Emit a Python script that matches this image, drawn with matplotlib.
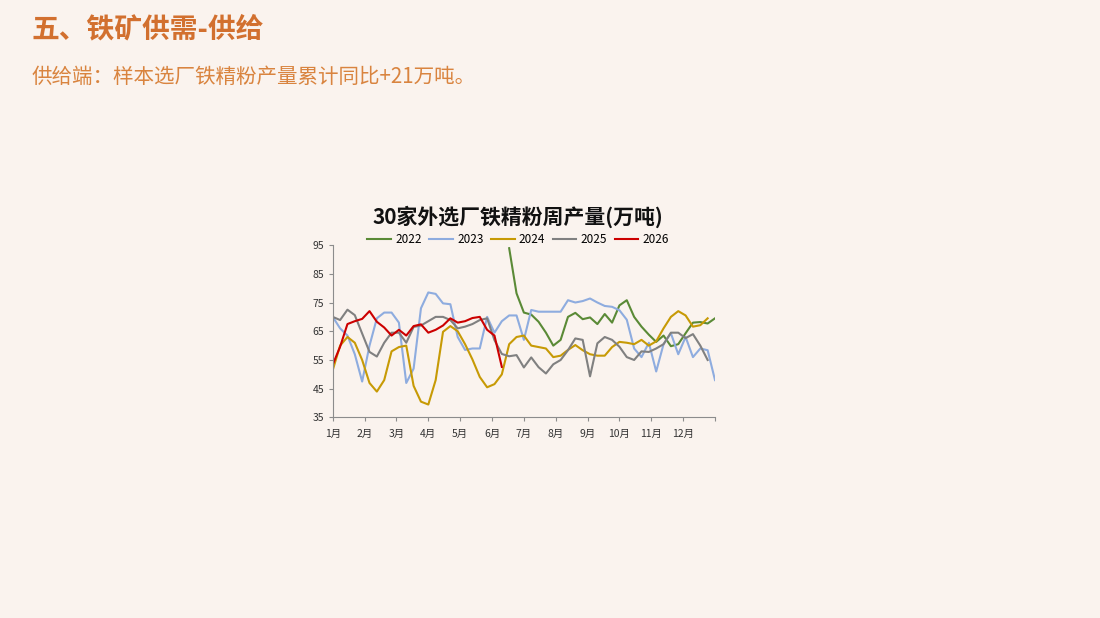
#!/usr/bin/env python3

import numpy as np
import matplotlib
matplotlib.use('Agg')
import matplotlib.pyplot as plt

plt.rcParams['font.family'] = ['Noto Sans CJK SC', 'DejaVu Sans']

BG = '#FAF3EE'

# weekly output, 10k tonnes; week 0 = first week of January
y2022_start = 24
y2022 = [93.9, 78.2, 71.5, 70.8, 68.3, 64.5, 60.0, 62.0, 70.0, 71.4,
         69.2, 69.8, 67.5, 71.0, 68.0, 74.0, 75.8, 70.0, 66.6, 63.8,
         61.3, 63.5, 59.8, 60.5, 64.3, 68.0, 68.2, 67.7, 69.5]
y2023 = [70.0, 66.0, 63.5, 57.0, 47.5, 60.0, 69.5, 71.5, 71.5, 68.0,
         47.0, 52.0, 73.0, 78.5, 78.0, 74.7, 74.4, 63.0, 58.5, 59.0,
         59.0, 70.0, 64.5, 68.5, 70.5, 70.5, 62.0, 72.4, 71.8, 71.8,
         71.8, 71.8, 75.8, 75.0, 75.5, 76.4, 75.0, 73.8, 73.5, 72.3,
         69.0, 59.0, 56.0, 61.0, 51.0, 60.5, 64.3, 57.0, 63.0, 56.0,
         59.0, 58.4, 48.0]
y2024 = [51.5, 60.0, 63.0, 61.0, 55.0, 47.0, 44.0, 48.0, 58.0, 59.5,
         60.0, 46.0, 40.5, 39.5, 48.0, 64.8, 66.8, 65.0, 60.5, 55.2,
         49.1, 45.5, 46.6, 50.0, 60.5, 63.0, 63.5, 60.0, 59.5, 59.0,
         56.0, 56.5, 58.5, 60.2, 58.4, 57.0, 56.5, 56.5, 59.5, 61.3,
         61.0, 60.5, 62.0, 60.0, 61.5, 66.0, 70.0, 72.0, 70.5, 66.6,
         67.1, 69.5]
y2025 = [70.0, 68.9, 72.5, 70.6, 64.2, 57.8, 56.2, 61.0, 64.5, 64.5,
         61.0, 66.5, 67.0, 68.5, 70.0, 70.0, 68.9, 66.0, 66.6, 67.5,
         68.9, 69.5, 61.9, 57.1, 56.3, 56.7, 52.4, 55.9, 52.5, 50.3,
         53.5, 55.0, 58.4, 62.5, 62.0, 49.3, 60.8, 63.0, 62.0, 59.6,
         56.0, 55.0, 58.0, 57.8, 59.0, 60.5, 64.5, 64.5, 62.6, 64.0,
         60.0, 55.0]
y2026 = [53.4, 59.6, 67.5, 68.5, 69.3, 72.0, 68.3, 66.3, 63.5, 65.5,
         63.5, 66.8, 67.4, 64.5, 65.5, 67.0, 69.5, 68.0, 68.5, 69.6,
         70.0, 65.5, 63.5, 52.6]

months = ['1月', '2月', '3月', '4月', '5月', '6月',
          '7月', '8月', '9月', '10月', '11月', '12月']


def week_x(n, start=0):
    # convert week index to month units on the axis
    return (np.arange(n) + start) * 12 / 52


fig = plt.figure(figsize=(11, 6.18), dpi=100, facecolor=BG)

fig.text(0.029, 0.953, '五、铁矿供需-供给', fontsize=20, fontweight='bold',
         color='#D2702F', va='center', ha='left')
fig.text(0.029, 0.875, '供给端：样本选厂铁精粉产量累计同比+21万吨。', fontsize=14.8,
         color='#D9843F', va='center', ha='left')

ax = fig.add_axes([0.3025, 0.3245, 0.3475, 0.279])
ax.set_facecolor(BG)

lw = 1.5
ax.plot(week_x(len(y2022), y2022_start), y2022, color='#5A8A36', lw=lw, label='2022')
ax.plot(week_x(len(y2023)), y2023, color='#8EACDF', lw=lw, label='2023')
ax.plot(week_x(len(y2024)), y2024, color='#C79A05', lw=lw, label='2024')
ax.plot(week_x(len(y2025)), y2025, color='#808080', lw=lw, label='2025')
ax.plot(week_x(len(y2026)), y2026, color='#CC0000', lw=lw, label='2026')

ax.set_xlim(0, 12)
ax.set_ylim(35, 95)
ax.set_yticks(np.arange(35, 96, 10))
ax.set_xticks(np.arange(13))
ax.set_xticklabels(months + [''])
ax.tick_params(axis='both', labelsize=7.5, colors='#8C8C8C', labelcolor='#333333',
               length=3, width=0.8, direction='out')
ax.tick_params(axis='x', pad=5)
ax.tick_params(axis='y', pad=3)
for side in ['top', 'right']:
    ax.spines[side].set_visible(False)
for side in ['left', 'bottom']:
    ax.spines[side].set_color('#8C8C8C')
    ax.spines[side].set_linewidth(0.8)

ax.legend(loc='lower center', bbox_to_anchor=(0.485, 0.965), ncol=5, frameon=False,
          fontsize=8.5, handlelength=2.0, handletextpad=0.35, columnspacing=0.65,
          borderaxespad=0)

fig.text(0.471, 0.650, '30家外选厂铁精粉周产量(万吨)', fontsize=15, fontweight='bold',
         color='#111111', ha='center', va='center')

fig.savefig('out.png', dpi=100, facecolor=BG)
